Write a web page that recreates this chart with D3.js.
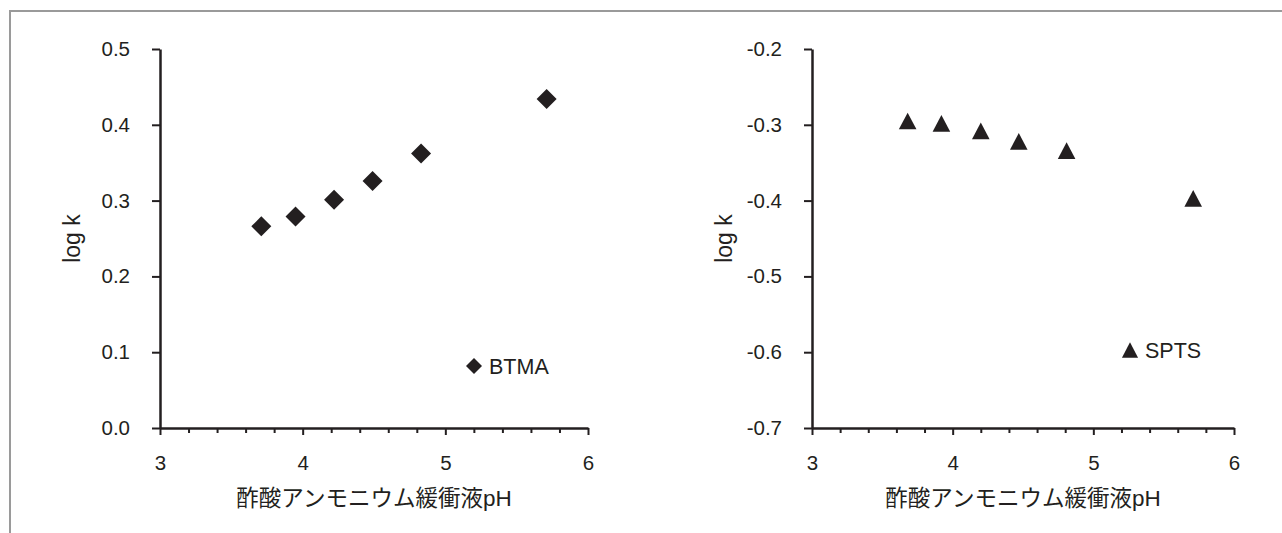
<!DOCTYPE html>
<meta charset="utf-8">
<style>
  body { margin: 0; background: #fff; }
  text { font-family: "Liberation Sans", Arial, "Noto Sans CJK JP", sans-serif; fill: #231f20; }
</style>
<svg width="1282" height="533"></svg>
<script src="https://d3js.org/d3.v7.min.js"></script>
<script>

var svg = d3.select("svg");

var phBTMA   = [3.71, 3.95, 4.22, 4.49, 4.83, 5.71];
var logkBTMA = [0.266, 0.279, 0.301, 0.326, 0.362, 0.434];
var phSPTS   = [3.68, 3.92, 4.20, 4.47, 4.81, 5.71];
var logkSPTS = [-0.295, -0.298, -0.308, -0.322, -0.334, -0.397];

var xTitle = "酢酸アンモニウム緩衝液pH";
var yTitle = "log k";

var ink = "#231f20";
var tickFont = "20.5px";
var legendFont = "21.5px";
var xTitleFont = "22.5px";
var yTitleFont = "23px";

// frame around the figure (only top and left visible)
svg.append("path")
    .attr("d", "M10,533 V11 H1282")
    .attr("fill", "none")
    .attr("stroke", "#9a9a9a")
    .attr("stroke-width", 2);

// triangle centred on its bounding box, like the spreadsheet markers
var triangleBox = {
  draw: function(ctx, size) {
    var w = Math.sqrt(size), h = w * 0.95;
    ctx.moveTo(0, -h / 2);
    ctx.lineTo(w / 2, h / 2);
    ctx.lineTo(-w / 2, h / 2);
    ctx.closePath();
  }
};
var diamond = {
  draw: function(ctx, size) {
    var r = Math.sqrt(size) / 2;
    ctx.moveTo(0, -r);
    ctx.lineTo(r, 0);
    ctx.lineTo(0, r);
    ctx.lineTo(-r, 0);
    ctx.closePath();
  }
};

function panel(opt) {
  var x = d3.scaleLinear().domain([3, 6]).range([opt.left, opt.right]);
  var y = d3.scaleLinear().domain(opt.yDomain).range([428, 49]);
  var g = svg.append("g");

  var yTicks = d3.range(0, 6).map(function(i) { return +(opt.yDomain[0] + i * 0.1).toFixed(1); });

  // minor x ticks
  g.append("g")
      .attr("transform", "translate(0,428)")
      .call(d3.axisBottom(x).tickValues(d3.range(3.2, 6, 0.2).filter(function(v) { return Math.abs(v - Math.round(v)) > 0.01; }))
            .tickSize(5).tickFormat(""))
      .call(function(a) { a.select(".domain").remove(); })
      .selectAll("line").attr("stroke", ink).attr("stroke-width", 2);

  var xa = g.append("g")
      .attr("transform", "translate(0,428)")
      .call(d3.axisBottom(x).tickValues([3, 4, 5, 6]).tickSize(7).tickSizeOuter(0).tickPadding(20).tickFormat(d3.format("d")));

  var ya = g.append("g")
      .attr("transform", "translate(" + opt.left + ",0)")
      .call(d3.axisLeft(y).tickValues(yTicks).tickSize(8).tickSizeOuter(0).tickPadding(22)
            .tickFormat(function(d) { return d.toFixed(1); }));

  [xa, ya].forEach(function(a) {
    a.select(".domain").attr("stroke", ink).attr("stroke-width", 2.5);
    a.selectAll("line").attr("stroke", ink).attr("stroke-width", 2);
    a.selectAll("text").attr("fill", ink).style("font-size", tickFont)
        .style("font-family", '"Liberation Sans", Arial, sans-serif');
  });

  g.append("text")
      .attr("x", (opt.left + opt.right) / 2)
      .attr("y", 506)
      .attr("text-anchor", "middle")
      .style("font-size", xTitleFont)
      .text(xTitle);

  g.append("text")
      .attr("transform", "translate(" + (opt.left - 80) + ",238.5) rotate(-90)")
      .attr("text-anchor", "middle")
      .style("font-size", yTitleFont)
      .text(yTitle);

  var sym = d3.symbol().type(opt.shape).size(opt.size);
  g.append("g").selectAll("path")
      .data(opt.xs)
      .enter().append("path")
      .attr("d", sym)
      .attr("fill", ink)
      .attr("transform", function(d, i) { return "translate(" + x(d) + "," + y(opt.ys[i]) + ")"; });

  // legend
  g.append("path")
      .attr("d", d3.symbol().type(opt.shape).size(opt.legendSize))
      .attr("fill", ink)
      .attr("transform", "translate(" + opt.legend[0] + "," + opt.legend[1] + ")");
  g.append("text")
      .attr("x", opt.legend[0] + 15)
      .attr("y", opt.legend[1] + 7.5)
      .style("font-size", legendFont)
      .text(opt.name);
}

panel({ left: 160, right: 588, yDomain: [0, 0.5], xs: phBTMA, ys: logkBTMA,
        shape: diamond, size: 400, legendSize: 256, legend: [474, 366], name: "BTMA" });
panel({ left: 812, right: 1234, yDomain: [-0.7, -0.2], xs: phSPTS, ys: logkSPTS,
        shape: triangleBox, size: 310, legendSize: 260, legend: [1130, 350], name: "SPTS" });

</script>
